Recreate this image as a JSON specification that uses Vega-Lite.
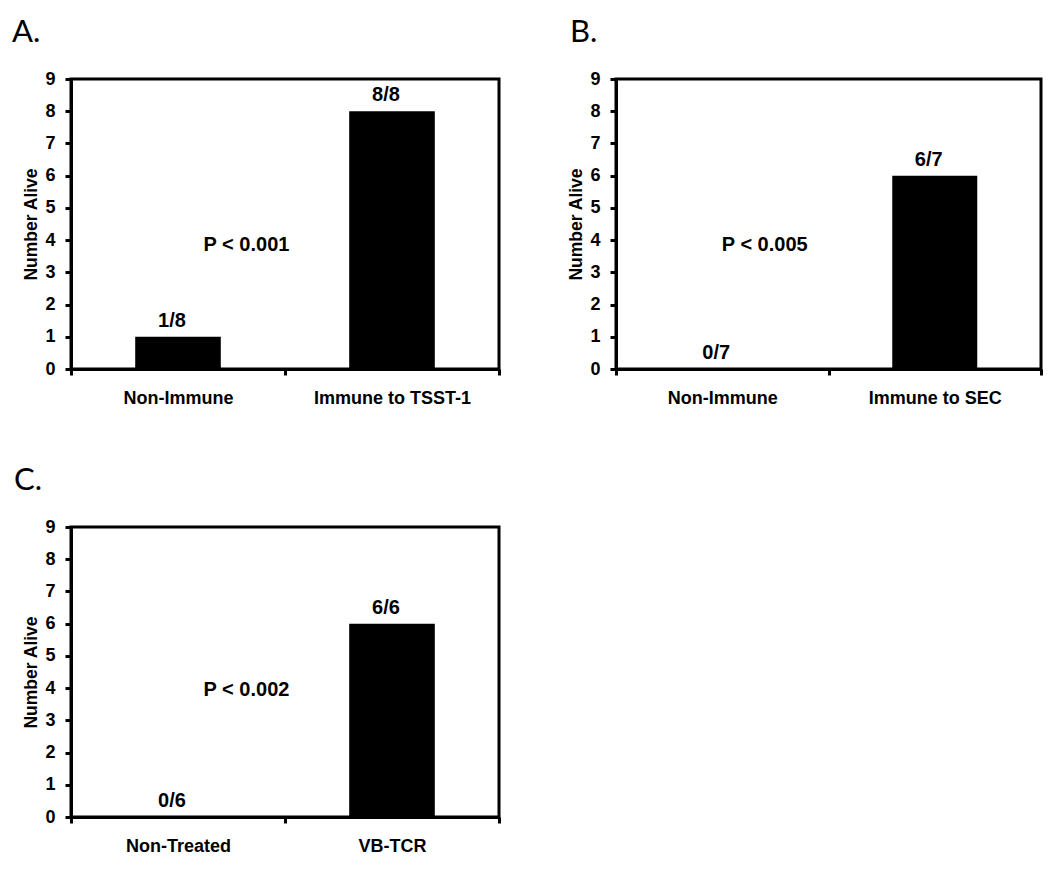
{
  "$schema": "https://vega.github.io/schema/vega-lite/v6.json",
  "background": "white",
  "padding": {"left": 10, "top": 15, "right": 5, "bottom": 5},
  "config": {
    "font": "Liberation Sans",
    "view": {"stroke": "black", "strokeWidth": 3},
    "axis": {
      "labelFont": "Liberation Sans", "labelFontWeight": "bold", "labelFontSize": 18, "labelColor": "black",
      "titleFont": "Liberation Sans", "titleFontWeight": "bold", "titleFontSize": 17.5, "titleColor": "black",
      "domainColor": "black", "domainWidth": 3, "tickColor": "black", "tickWidth": 3, "tickSize": 6, "grid": false
    },
    "axisY": {"labelOverlap": false},
    "title": {"font": "Lato", "fontSize": 31, "fontWeight": "normal", "color": "black", "anchor": "start", "frame": "group", "offset": 21}
  },
  "datasets": {
    "bars": [
      {"panel": "A", "group": "Non-Immune", "alive": 1, "label": "1/8"},
      {"panel": "A", "group": "Immune to TSST-1", "alive": 8, "label": "8/8"},
      {"panel": "B", "group": "Non-Immune", "alive": 0, "label": "0/7"},
      {"panel": "B", "group": "Immune to SEC", "alive": 6, "label": "6/7"},
      {"panel": "C", "group": "Non-Treated", "alive": 0, "label": "0/6"},
      {"panel": "C", "group": "VB-TCR", "alive": 6, "label": "6/6"}
    ],
    "notes": [
      {"panel": "A", "group": "Non-Immune", "alive": 3.85, "text": "P < 0.001"},
      {"panel": "B", "group": "Non-Immune", "alive": 3.85, "text": "P < 0.005"},
      {"panel": "C", "group": "Non-Treated", "alive": 3.95, "text": "P < 0.002"}
    ]
  },
  "spacing": 54,
  "vconcat": [
    {
      "spacing": 64,
      "hconcat": [
        {
          "width": 428, "height": 290,
          "title": {"text": "A.", "dx": -59},
          "layer": [
            {
              "data": {"name": "bars"},
              "transform": [{"filter": "datum.panel === 'A'"}],
              "mark": {"type": "bar", "color": "black", "width": {"band": 0.4}},
              "encoding": {
                "x": {"field": "group", "type": "nominal", "sort": null, "scale": {"paddingInner": 0, "paddingOuter": 0},
                      "axis": {"title": null, "labelAngle": 0, "tickBand": "extent", "labelPadding": 14}},
                "y": {"field": "alive", "type": "quantitative", "scale": {"domain": [0, 9], "nice": false},
                      "axis": {"title": "Number Alive", "values": [0, 1, 2, 3, 4, 5, 6, 7, 8, 9], "labelPadding": 10, "titlePadding": 4}}
              }
            },
            {
              "data": {"name": "bars"},
              "transform": [{"filter": "datum.panel === 'A'"}],
              "mark": {"type": "text", "fontSize": 20, "fontWeight": "bold", "baseline": "alphabetic", "dy": -10, "dx": -6, "color": "black"},
              "encoding": {
                "x": {"field": "group", "type": "nominal", "sort": null},
                "y": {"field": "alive", "type": "quantitative",
                      "axis": {"title": "Number Alive", "values": [0, 1, 2, 3, 4, 5, 6, 7, 8, 9], "labelPadding": 10, "titlePadding": 4}},
                "text": {"field": "label"}
              }
            },
            {
              "data": {"name": "notes"},
              "transform": [{"filter": "datum.panel === 'A'"}],
              "mark": {"type": "text", "fontSize": 20, "fontWeight": "bold", "baseline": "middle", "color": "black"},
              "encoding": {
                "x": {"field": "group", "type": "nominal", "sort": null, "bandPosition": 0.82},
                "y": {"field": "alive", "type": "quantitative",
                      "axis": {"title": "Number Alive", "values": [0, 1, 2, 3, 4, 5, 6, 7, 8, 9], "labelPadding": 10, "titlePadding": 4}},
                "text": {"field": "text"}
              }
            }
          ]
        },
        {
          "width": 425, "height": 290,
          "title": {"text": "B.", "dx": -46},
          "layer": [
            {
              "data": {"name": "bars"},
              "transform": [{"filter": "datum.panel === 'B'"}],
              "mark": {"type": "bar", "color": "black", "width": {"band": 0.4}},
              "encoding": {
                "x": {"field": "group", "type": "nominal", "sort": null, "scale": {"paddingInner": 0, "paddingOuter": 0},
                      "axis": {"title": null, "labelAngle": 0, "tickBand": "extent", "labelPadding": 14}},
                "y": {"field": "alive", "type": "quantitative", "scale": {"domain": [0, 9], "nice": false},
                      "axis": {"title": "Number Alive", "values": [0, 1, 2, 3, 4, 5, 6, 7, 8, 9], "labelPadding": 10, "titlePadding": 4}}
              }
            },
            {
              "data": {"name": "bars"},
              "transform": [{"filter": "datum.panel === 'B'"}],
              "mark": {"type": "text", "fontSize": 20, "fontWeight": "bold", "baseline": "alphabetic", "dy": -10, "dx": -6, "color": "black"},
              "encoding": {
                "x": {"field": "group", "type": "nominal", "sort": null},
                "y": {"field": "alive", "type": "quantitative",
                      "axis": {"title": "Number Alive", "values": [0, 1, 2, 3, 4, 5, 6, 7, 8, 9], "labelPadding": 10, "titlePadding": 4}},
                "text": {"field": "label"}
              }
            },
            {
              "data": {"name": "notes"},
              "transform": [{"filter": "datum.panel === 'B'"}],
              "mark": {"type": "text", "fontSize": 20, "fontWeight": "bold", "baseline": "middle", "color": "black"},
              "encoding": {
                "x": {"field": "group", "type": "nominal", "sort": null, "bandPosition": 0.7},
                "y": {"field": "alive", "type": "quantitative",
                      "axis": {"title": "Number Alive", "values": [0, 1, 2, 3, 4, 5, 6, 7, 8, 9], "labelPadding": 10, "titlePadding": 4}},
                "text": {"field": "text"}
              }
            }
          ]
        }
      ]
    },
    {
      "width": 428, "height": 290,
      "title": {"text": "C.", "dx": -57},
      "layer": [
        {
          "data": {"name": "bars"},
          "transform": [{"filter": "datum.panel === 'C'"}],
          "mark": {"type": "bar", "color": "black", "width": {"band": 0.4}},
          "encoding": {
            "x": {"field": "group", "type": "nominal", "sort": null, "scale": {"paddingInner": 0, "paddingOuter": 0},
                  "axis": {"title": null, "labelAngle": 0, "tickBand": "extent", "labelPadding": 14}},
            "y": {"field": "alive", "type": "quantitative", "scale": {"domain": [0, 9], "nice": false},
                  "axis": {"title": "Number Alive", "values": [0, 1, 2, 3, 4, 5, 6, 7, 8, 9], "labelPadding": 10, "titlePadding": 4}}
          }
        },
        {
          "data": {"name": "bars"},
          "transform": [{"filter": "datum.panel === 'C'"}],
          "mark": {"type": "text", "fontSize": 20, "fontWeight": "bold", "baseline": "alphabetic", "dy": -10, "dx": -6, "color": "black"},
          "encoding": {
            "x": {"field": "group", "type": "nominal", "sort": null},
            "y": {"field": "alive", "type": "quantitative",
                  "axis": {"title": "Number Alive", "values": [0, 1, 2, 3, 4, 5, 6, 7, 8, 9], "labelPadding": 10, "titlePadding": 4}},
            "text": {"field": "label"}
          }
        },
        {
          "data": {"name": "notes"},
          "transform": [{"filter": "datum.panel === 'C'"}],
          "mark": {"type": "text", "fontSize": 20, "fontWeight": "bold", "baseline": "middle", "color": "black"},
          "encoding": {
            "x": {"field": "group", "type": "nominal", "sort": null, "bandPosition": 0.82},
            "y": {"field": "alive", "type": "quantitative",
                  "axis": {"title": "Number Alive", "values": [0, 1, 2, 3, 4, 5, 6, 7, 8, 9], "labelPadding": 10, "titlePadding": 4}},
            "text": {"field": "text"}
          }
        }
      ]
    }
  ]
}
